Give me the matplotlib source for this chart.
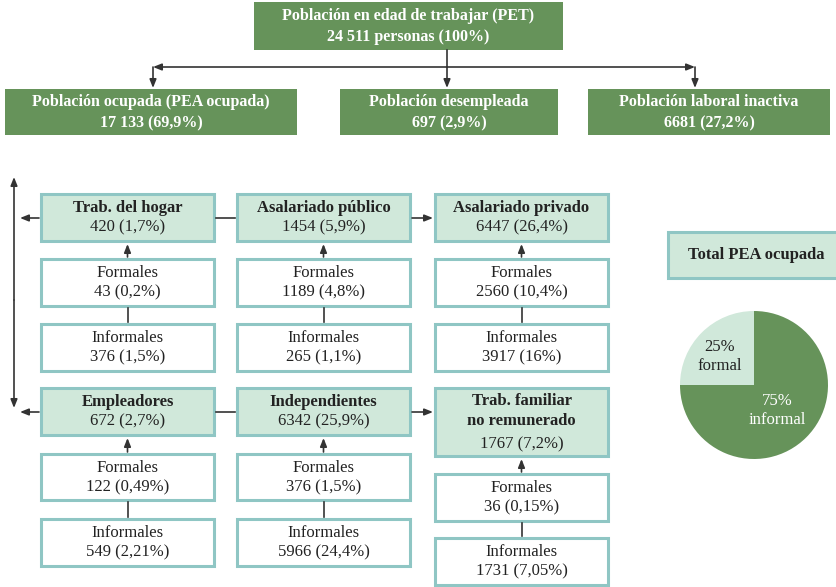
import matplotlib.pyplot as plt
from matplotlib.patches import Rectangle

# Data
pet_label = "Población en edad de trabajar (PET)"
pet_value = "24 511 personas (100%)"
level2_names = ["Población ocupada (PEA ocupada)", "Población desempleada", "Población laboral inactiva"]
level2_values = ["17 133 (69,9%)", "697 (2,9%)", "6681 (27,2%)"]

group_names = ["Trab. del hogar", "Asalariado público", "Asalariado privado",
               "Empleadores", "Independientes", "Trab. familiar\nno remunerado"]
group_values = ["420 (1,7%)", "1454 (5,9%)", "6447 (26,4%)",
                "672 (2,7%)", "6342 (25,9%)", "1767 (7,2%)"]
formales = ["43 (0,2%)", "1189 (4,8%)", "2560 (10,4%)",
            "122 (0,49%)", "376 (1,5%)", "36 (0,15%)"]
informales = ["376 (1,5%)", "265 (1,1%)", "3917 (16%)",
              "549 (2,21%)", "5966 (24,4%)", "1731 (7,05%)"]

pie_labels = ["formal", "informal"]
pie_shares = [25, 75]

DARK = "#66935a"
LIGHT = "#d0e8da"
BORDER = "#8fc6c4"
LINE = "#333333"
TXT = "#222222"
plt.rcParams['font.family'] = ['Liberation Serif', 'DejaVu Serif']

fig = plt.figure(figsize=(8.36, 5.87), dpi=100)
ax = fig.add_axes([0, 0, 1, 1])
ax.set_xlim(0, 836)
ax.set_ylim(587, 0)
ax.axis('off')


def box(x0, y0, x1, y1, fc, ec=None, lw=2.2):
    ax.add_patch(Rectangle((x0, y0), x1 - x0, y1 - y0, facecolor=fc,
                           edgecolor=ec if ec else 'none', linewidth=lw))


def arrow(x0, y0, x1, y1):
    ax.annotate("", xy=(x1, y1), xytext=(x0, y0),
                arrowprops=dict(arrowstyle="-|>,head_length=0.5,head_width=0.2",
                                color=LINE, lw=1.2, shrinkA=0, shrinkB=0))


def line(xs, ys):
    ax.plot(xs, ys, color=LINE, lw=1.2)


# top
box(254, 2, 563, 50, DARK)
ax.text(408, 16, pet_label, ha='center', va='center', color='white', fontsize=11.5, fontweight='bold')
ax.text(408, 37, pet_value, ha='center', va='center', color='white', fontsize=11.5, fontweight='bold')

line([447, 447], [50, 67])
arrow(447, 67, 153, 67)
arrow(447, 67, 695, 67)
for xc in [153, 447, 695]:
    arrow(xc, 67, xc, 88)

l2_boxes = [(5, 297), (340, 558), (588, 830)]
for (x0, x1), name, val in zip(l2_boxes, level2_names, level2_values):
    box(x0, 89, x1, 135, DARK)
    xc = (x0 + x1) / 2
    ax.text(xc, 102, name, ha='center', va='center', color='white', fontsize=11.5, fontweight='bold')
    ax.text(xc, 123, val, ha='center', va='center', color='white', fontsize=11.5, fontweight='bold')

# grid of boxes
cols = [(41, 214), (237, 410), (435, 608)]
rows = [
    [(194, 241), (259, 306), (324, 371)],
    [(388, 435), (454, 500), (519, 566)],
]
rows_col3_r2 = [(388, 456), (474, 521), (538, 585)]

for i, (name, val, f, inf) in enumerate(zip(group_names, group_values, formales, informales)):
    r, c = divmod(i, 3)
    x0, x1 = cols[c]
    xc = (x0 + x1) / 2
    spans = rows_col3_r2 if (r == 1 and c == 2) else rows[r]
    (h0, h1), (f0, f1), (i0, i1) = spans
    box(x0, h0, x1, h1, LIGHT, BORDER)
    if "\n" in name:
        ax.text(xc, h0 + 23, name, ha='center', va='center', fontsize=12,
                fontweight='bold', linespacing=1.3, color=TXT)
        ax.text(xc, h1 - 12, val, ha='center', va='center', fontsize=12, color=TXT)
    else:
        ax.text(xc, h0 + 14, name, ha='center', va='center', fontsize=12, fontweight='bold', color=TXT)
        ax.text(xc, h0 + 33, val, ha='center', va='center', fontsize=12, color=TXT)
    box(x0, f0, x1, f1, 'white', BORDER)
    ax.text(xc, f0 + 14, "Formales", ha='center', va='center', fontsize=12, color=TXT)
    ax.text(xc, f0 + 33, f, ha='center', va='center', fontsize=12, color=TXT)
    box(x0, i0, x1, i1, 'white', BORDER)
    ax.text(xc, i0 + 14, "Informales", ha='center', va='center', fontsize=12, color=TXT)
    ax.text(xc, i0 + 33, inf, ha='center', va='center', fontsize=12, color=TXT)
    arrow(xc, f0 - 2, xc, h1 + 3)
    line([xc, xc], [f1 + 2, i0 - 2])

# horizontal connectors
for yc in [218, 412]:
    arrow(39, yc, 20, yc)
    line([216, 235], [yc, yc])
    arrow(412, yc, 433, yc)

# vertical double arrow on the left
arrow(14, 300, 14, 177)
arrow(14, 300, 14, 408)

# Total PEA ocupada
box(668, 232, 846, 278, LIGHT, BORDER)
ax.text(756, 255, "Total PEA ocupada", ha='center', va='center', fontsize=12, fontweight='bold', color=TXT)

pie_ax = fig.add_axes([680 / 836, 1 - 459 / 587, 148 / 836, 148 / 587])
pie_ax.pie(pie_shares, colors=[LIGHT, DARK], startangle=180, counterclock=False,
           wedgeprops=dict(linewidth=0))
pie_ax.set_xlim(-1, 1)
pie_ax.set_ylim(-1, 1)
pie_ax.set_aspect('equal')
pie_ax.text(-0.46, 0.38, f"{pie_shares[0]}%\n{pie_labels[0]}", ha='center', va='center',
            fontsize=12, color=TXT, linespacing=1.25)
pie_ax.text(0.31, -0.35, f"{pie_shares[1]}%\n{pie_labels[1]}", ha='center', va='center',
            fontsize=12, color='white', linespacing=1.25)

fig.savefig("out.png", dpi=100)
